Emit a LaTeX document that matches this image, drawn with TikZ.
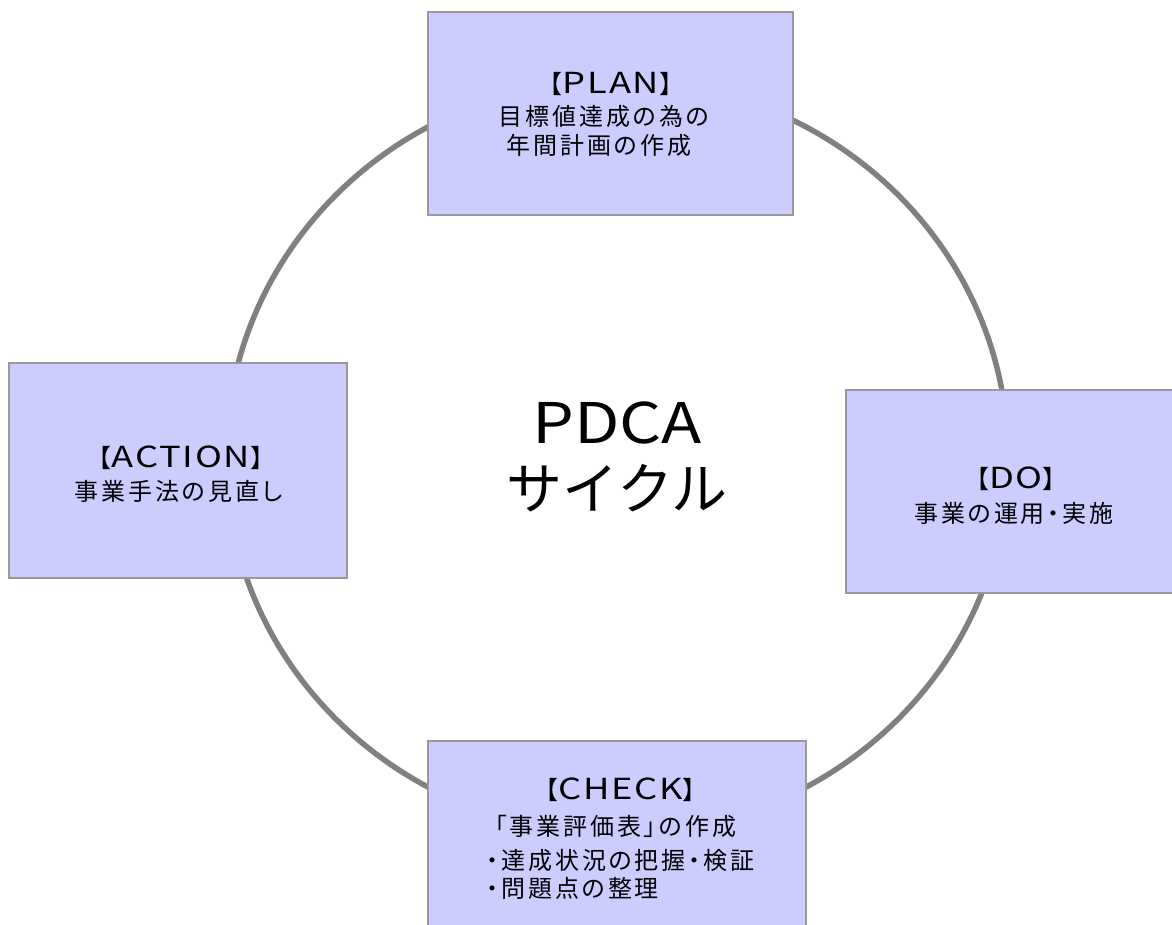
\documentclass[tikz,border=0pt]{standalone}
\usepackage{fontspec}
\usetikzlibrary{shapes.geometric}
\newfontfamily\jp[LetterSpace=12,RawFeature=+palt]{Noto Sans CJK JP}
\newfontfamily\latf[FakeStretch=1.25,LetterSpace=6]{Noto Sans CJK JP}
\newfontfamily\jpbig{Noto Sans CJK JP}
\newfontfamily\latbig[FakeStretch=1.18]{Noto Sans CJK JP}
\newcommand{\brk}[1]{{\jpbig\fontsize{25}{26}\selectfont【}{\latf\fontsize{29}{30}\selectfont #1}{\jpbig\fontsize{25}{26}\selectfont】}}
\definecolor{boxfill}{RGB}{204,204,255}
\definecolor{boxline}{RGB}{153,153,153}
\definecolor{ringline}{RGB}{128,128,128}
\tikzset{
  stagebox/.style={draw=boxline, line width=1.5pt, fill=boxfill, rectangle, inner sep=0pt},
  boxtext/.style={inner sep=0pt, font=\jp\fontsize{24}{26}\selectfont, text=black},
  ringstyle/.style={ellipse, draw=ringline, line width=5.5pt, inner sep=0pt,
    minimum width=782pt, minimum height=754pt, align=center,
    font=\jpbig\fontsize{56}{66}\selectfont}
}
\begin{document}
\begin{tikzpicture}[x=1pt,y=-1pt]
\clip (0,0) rectangle (1172,924);
\fill[white] (0,0) rectangle (1172,924);
% ring with centre title
\node[ringstyle] (ring) at (617,457) {{\latbig PDCA}\\サイクル};
% stage boxes
\node[stagebox, minimum width=365pt, minimum height=203pt] (plan) at (610.5,113.5) {};
\node[stagebox, minimum width=334pt, minimum height=203pt] (do) at (1013,491.5) {};
\node[stagebox, minimum width=378pt, minimum height=194pt] (check) at (617,838) {};
\node[stagebox, minimum width=338pt, minimum height=215pt] (action) at (178,470.5) {};
% texts
\node[boxtext] (plan1) at (611,84) {\brk{PLAN}};
\node[boxtext] (plan2) at (604,116.5) {目標値達成の為の};
\node[boxtext] (plan3) at (599,145.5) {年間計画の作成};
\node[boxtext] (do1) at (1016,479) {\brk{DO}};
\node[boxtext] (do2) at (1014,513.5) {事業の運用・実施};
\node[boxtext] (act1) at (181,458) {\brk{ACTION}};
\node[boxtext] (act2) at (178.5,491) {事業手法の見直し};
\node[boxtext] (chk1) at (620.5,790) {\brk{CHECK}};
\node[boxtext] (chk2) at (615.5,826) {「事業評価表」の作成};
\node[boxtext] (chk3) at (620.5,860) {・達成状況の把握・検証};
\node[boxtext, anchor=west] (chk4) at (chk3.west |- 0,888) {・問題点の整理};
\end{tikzpicture}
\end{document}
